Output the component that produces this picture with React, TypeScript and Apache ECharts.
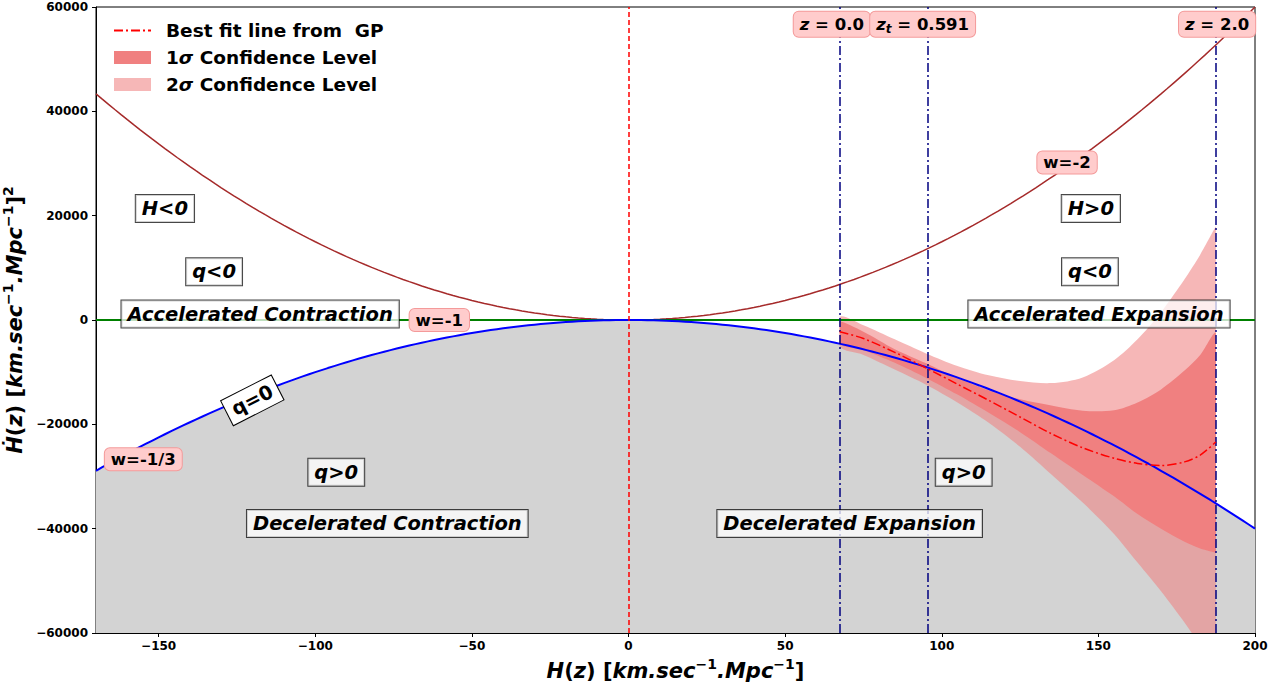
import React, { useEffect, useRef } from 'react';
import * as echarts from 'echarts';

const FONT = 'DejaVu Sans';

// Equation-of-state parameters of the reference curves, Hdot = -(3/2)(1+w) H^2
const wValues = [-2, -1, -1 / 3];
const wColors = ['#a52a2a', 'green', 'blue'];
const wWidths = [1.5, 1.8, 2];

// Hubble-parameter range and the grid the reference curves are drawn on
const hRange = [-170, 200];
const curveStep = 2;

// Gaussian-process reconstruction of Hdot(H)
const gpH = [67.4, 75, 85, 95, 105, 115, 125, 135, 145, 155, 162.5, 170, 177.5, 182.5, 187.5];
const gpBest = [-2250, -3550, -6200, -9200, -12300, -15400, -18600, -21800, -24500, -26500, -27500, -27900, -27200, -25900, -23400];
const gpUp1 = [-300, -2250, -5600, -8300, -11100, -13500, -15200, -16400, -17400, -17300, -15800, -13300, -9700, -6700, -2600];
const gpLo1 = [-4500, -5800, -8200, -11100, -14300, -17800, -21500, -25600, -29700, -33800, -37200, -40000, -42500, -43800, -44600];
const gpUp2 = [600, -1000, -3700, -6400, -8800, -10600, -11700, -12100, -11000, -7700, -3700, 1500, 7800, 12500, 17900];
const gpLo2 = [-5100, -6700, -9500, -12400, -15800, -19700, -24300, -29600, -35000, -41000, -46500, -52000, -58000, -62500, -68000];

// Redshift markers (z = 0, transition redshift, z = 2)
const zMarkH = [67.4, 95.4, 187.5];
const zMarkText = ['{i|z}{n| = 0.0}', '{i|z}{sub|t}{n| = 0.591}', '{i|z}{n| = 2.0}'];
const zMarkLabelH = [64.9, 93.9, 187.9];
const zMarkLabelY = [56700, 56700, 56700];

// Region annotations
const regionText = ['H<0', 'q<0', 'Accelerated Contraction', 'q>0', 'Decelerated Contraction', 'H>0', 'q<0', 'Accelerated Expansion', 'q>0', 'Decelerated Expansion'];
const regionH = [-148, -132.3, -117.6, -93.3, -77, 147.6, 147.3, 150.2, 107, 70.6];
const regionY = [21350, 9230, 1150, -29200, -39000, 21350, 9230, 1150, -29200, -39000];

// Curve annotations
const curveText = ['w=-2', 'w=-1', 'w=-1/3'];
const curveLabelH = [140, -60.4, -154.9];
const curveLabelY = [30200, 0, -26700];

const qZeroText = 'q=0';
const qZeroH = -120.1;
const qZeroY = -15400;

const bestFitName = 'Best fit line from  GP';
const sigma1Name = '1σ Confidence Level';
const sigma2Name = '2σ Confidence Level';

const c1 = '#f08080';
const c2 = 'rgba(240,128,128,0.57)';

const yTicks = { min: -60000, max: 60000, interval: 20000 };
const xTickValues = [-150, -100, -50, 0, 50, 100, 150, 200];

const minus = (v: number) => String(v).replace('-', '\u2212');

export default function App() {
  const ref = useRef<HTMLDivElement>(null);

  useEffect(() => {
    if (!ref.current) return;
    const chart = echarts.init(ref.current, null, { renderer: 'svg' });

    const curveH: number[] = [];
    for (let h = hRange[0]; h <= hRange[1] + 1e-9; h += curveStep) curveH.push(h);
    const curves = wValues.map((w) => curveH.map((h) => [h, -1.5 * (1 + w) * h * h + 0]));

    const band = (name: string, up: number[], lo: number[], color: string, z: number) => ({
      name,
      type: 'custom',
      z,
      clip: true,
      silent: true,
      data: [[gpH[0], lo[0]]],
      encode: { x: 0, y: 1 },
      itemStyle: { color },
      renderItem: (_p: any, api: any) => {
        const top = gpH.map((h, i) => api.coord([h, up[i]]));
        const bottom = gpH.map((h, i) => api.coord([h, lo[i]])).reverse();
        const pts = top.concat(bottom);
        let x0 = Infinity, x1 = -Infinity, y0 = Infinity, y1 = -Infinity;
        pts.forEach((p: number[]) => {
          x0 = Math.min(x0, p[0]); x1 = Math.max(x1, p[0]);
          y0 = Math.min(y0, p[1]); y1 = Math.max(y1, p[1]);
        });
        return {
          type: 'polygon',
          shape: { points: pts, smooth: 0.3, smoothConstraint: [[x0, y0], [x1, y1]] },
          style: { fill: color },
        };
      },
    });

    const textBase = {
      show: true,
      position: 'inside',
      color: '#000',
      textBorderWidth: 0,
      textBorderColor: 'transparent',
      textShadowBlur: 0,
      opacity: 1,
      fontFamily: FONT,
      fontWeight: 'bold',
    };
    const boxBase = {
      ...textBase,
      fontStyle: 'italic',
      fontSize: 19.5,
      backgroundColor: 'rgba(255,255,255,0.75)',
      borderColor: 'rgba(0,0,0,0.72)',
      borderWidth: 1,
      padding: [4, 6, 3, 6],
    };
    const pinkBase = {
      ...textBase,
      fontSize: 16.5,
      backgroundColor: '#ffcccc',
      borderColor: '#f49a9a',
      borderWidth: 1,
      borderRadius: 5,
      padding: [3, 6, 2, 6],
    };
    const richZ = {
      i: { fontFamily: FONT, fontWeight: 'bold', fontStyle: 'italic', fontSize: 16.5, color: '#000', lineHeight: 20 },
      n: { fontFamily: FONT, fontWeight: 'bold', fontSize: 16.5, color: '#000', lineHeight: 20 },
      sub: { fontFamily: FONT, fontWeight: 'bold', fontStyle: 'italic', fontSize: 12, color: '#000', lineHeight: 12, verticalAlign: 'bottom' },
    };

    const annotData: any[] = [];
    regionText.forEach((t, i) => {
      annotData.push({ value: [regionH[i], regionY[i]], label: { ...boxBase, formatter: t } });
    });
    annotData.push({
      value: [qZeroH, qZeroY],
      label: { ...boxBase, formatter: qZeroText, fontStyle: 'normal', rotate: 27, backgroundColor: '#fff', borderColor: '#000' },
    });
    curveText.forEach((t, i) => {
      annotData.push({ value: [curveLabelH[i], curveLabelY[i]], label: { ...pinkBase, formatter: t } });
    });
    zMarkText.forEach((t, i) => {
      annotData.push({ value: [zMarkLabelH[i], zMarkLabelY[i]], label: { ...pinkBase, formatter: t, rich: richZ } });
    });

    const axisRich = {
      i: { fontFamily: FONT, fontWeight: 'bold', fontStyle: 'italic', fontSize: 21, color: '#000', lineHeight: 28 },
      n: { fontFamily: FONT, fontWeight: 'bold', fontSize: 21, color: '#000', lineHeight: 28 },
      sup: { fontFamily: FONT, fontWeight: 'bold', fontSize: 14, color: '#000', lineHeight: 16, verticalAlign: 'top' },
    };
    const unit = '{n|(}{i|z}{n|) [}{i|km.sec}{sup|−1}{i|.Mpc}{sup|−1}{n|]}';

    const legendRich = {
      n: { fontFamily: FONT, fontWeight: 'bold', fontSize: 18.5, color: '#000' },
      i: { fontFamily: FONT, fontWeight: 'bold', fontStyle: 'italic', fontSize: 18.5, color: '#000' },
    };

    chart.setOption({
      animation: false,
      backgroundColor: '#fff',
      grid: {
        left: 96, right: 24, top: 7, bottom: 53,
        outerBoundsMode: 'none',
        containLabel: false,
        show: true, borderColor: '#000', borderWidth: 1,
      },
      legend: {
        left: 113,
        top: 21,
        padding: 0,
        orient: 'vertical',
        itemWidth: 37,
        itemHeight: 13,
        itemGap: 8,
        selectedMode: false,
        data: [
          { name: bestFitName, itemStyle: { opacity: 0, color: 'rgba(0,0,0,0)', borderWidth: 0 } },
          { name: sigma1Name, icon: 'rect', itemStyle: { color: c1 } },
          { name: sigma2Name, icon: 'rect', itemStyle: { color: c2 } },
        ],
        formatter: (name: string) => {
          if (name === bestFitName) return `{n|${name}}`;
          return `{n|${name[0]}}{i|σ}{n|${name.slice(2)}}`;
        },
        textStyle: { rich: legendRich, padding: [0, 0, 0, 10] },
      },
      xAxis: {
        type: 'value',
        min: hRange[0],
        max: hRange[1],
        name: '{i|H}' + unit,
        nameLocation: 'middle',
        nameGap: 20,
        nameTextStyle: { rich: axisRich },
        splitLine: { show: false },
        axisLine: { onZero: false, lineStyle: { color: '#000', width: 1 } },
        axisTick: { show: true, length: 4, lineStyle: { color: '#000' }, customValues: xTickValues },
        axisLabel: {
          customValues: xTickValues,
          formatter: (v: number) => minus(v),
          color: '#000',
          fontFamily: FONT,
          fontWeight: 'bold',
          fontSize: 12,
          margin: 7,
        },
      },
      yAxis: {
        type: 'value',
        min: yTicks.min,
        max: yTicks.max,
        interval: yTicks.interval,
        name: '{i|Ḣ}' + unit + '{sup|2}',
        nameLocation: 'middle',
        nameGap: 62,
        nameTextStyle: { rich: axisRich },
        splitLine: { show: false },
        axisLine: { show: true, onZero: false, lineStyle: { color: '#000', width: 1 } },
        axisTick: { show: true, length: 4, lineStyle: { color: '#000' } },
        axisLabel: {
          formatter: (v: number) => minus(v),
          color: '#000',
          fontFamily: FONT,
          fontWeight: 'bold',
          fontSize: 12,
          margin: 8,
        },
      },
      series: [
        {
          name: '_decel',
          type: 'line',
          z: 1,
          silent: true,
          symbol: 'none',
          data: curves[2],
          lineStyle: { width: 0 },
          areaStyle: { color: '#d3d3d3', opacity: 1, origin: 'start' },
        },
        band(sigma2Name, gpUp2, gpLo2, c2, 2),
        band(sigma1Name, gpUp1, gpLo1, c1, 3),
        ...curves.map((d, i) => ({
          name: '_w' + i,
          type: 'line',
          z: 4,
          silent: true,
          symbol: 'none',
          data: d,
          lineStyle: { color: wColors[i], width: wWidths[i] },
        })),
        {
          name: bestFitName,
          type: 'line',
          z: 6,
          silent: true,
          symbol: 'none',
          smooth: 0.3,
          data: gpH.map((h, i) => [h, gpBest[i]]),
          itemStyle: { color: 'rgba(0,0,0,0)' },
          lineStyle: { color: 'red', width: 1.5, type: [9, 3, 2, 3] },
          markLine: {
            silent: true,
            symbol: ['none', 'none'],
            label: { show: false },
            emphasis: { disabled: true },
            data: [
              { xAxis: 0, lineStyle: { color: 'red', width: 1.5, type: [5, 3] } },
              ...zMarkH.map((h) => ({ xAxis: h, lineStyle: { color: 'navy', width: 1.5, type: [9, 3, 2, 3] } })),
            ],
          },
        },
        {
          name: '_annot',
          type: 'scatter',
          z: 10,
          silent: true,
          symbol: 'rect',
          symbolSize: 1,
          itemStyle: { color: 'rgba(0,0,0,0)' },
          data: annotData,
        },
      ],
    });

    return () => chart.dispose();
  }, []);

  return <div ref={ref} style={{ position: 'fixed', left: 0, top: 0, width: 1279, height: 686 }} />;
}
